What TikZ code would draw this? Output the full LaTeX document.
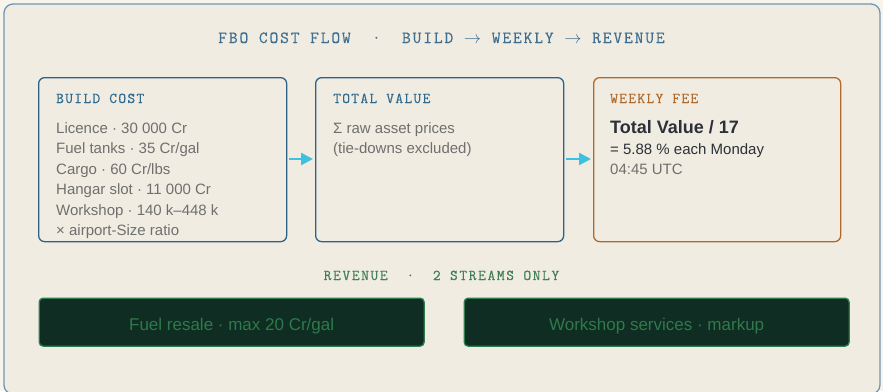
\documentclass[tikz,border=0pt]{standalone}
\usepackage{fontspec}
\setmainfont{Liberation Sans}
\newfontfamily\titlemono[LetterSpace=11,FakeBold=0.4]{Latin Modern Mono}
\newfontfamily\headmono[LetterSpace=9,FakeBold=0.4]{Latin Modern Mono}
\newfontfamily\revmono[LetterSpace=11,FakeBold=0.4]{Latin Modern Mono}
\usetikzlibrary{arrows.meta}
\definecolor{pagebg}{HTML}{F7F4EC}
\definecolor{panelbg}{HTML}{F0ECE1}
\definecolor{framec}{HTML}{7396B0}
\definecolor{bluec}{HTML}{2D6288}
\definecolor{blueh}{HTML}{2F6A90}
\definecolor{brownc}{HTML}{B06B2C}
\definecolor{grayt}{HTML}{6F6F6F}
\definecolor{darkt}{HTML}{2C3038}
\definecolor{cyanc}{HTML}{3EC1DF}
\definecolor{greenf}{HTML}{0F2D22}
\definecolor{greens}{HTML}{2F7D4E}
\definecolor{greent}{HTML}{2E7A4A}
\definecolor{titlec}{HTML}{3E6F91}
\definecolor{revc}{HTML}{3F8058}
\tikzset{
  card/.style={draw=bluec, line width=1.3pt, rounded corners=6pt, fill=panelbg, anchor=north west, inner sep=0pt},
  feecard/.style={card, draw=brownc},
  revbox/.style={draw=greens, line width=1.3pt, rounded corners=4pt, fill=greenf, inner sep=0pt,
    minimum width=385pt, minimum height=48pt},
  revtext/.style={anchor=base, inner sep=0pt, text=greent, font=\fontsize{17}{20}\selectfont},
  head/.style={anchor=base west, inner sep=0pt, font=\headmono\fontsize{15}{17}\selectfont},
  body/.style={anchor=base west, inner sep=0pt, text=grayt, font=\fontsize{15}{18}\selectfont},
  flow/.style={draw=cyanc, line width=2.6pt, -{Triangle[length=12pt,width=12pt]}, shorten <=2pt, shorten >=2pt},
}
\begin{document}
\begin{tikzpicture}[x=1pt,y=-1pt]
\useasboundingbox (0,0) rectangle (883,391);
\fill[pagebg] (0,0) rectangle (883,391);
\draw[framec, line width=1.3pt, fill=panelbg, rounded corners=9pt] (4,4) rectangle (880,394);

\node[anchor=base, inner sep=0pt, text=titlec, font=\titlemono\fontsize{17}{20}\selectfont] (title) at (441.5,43)
  {FBO COST FLOW\ \ ·\ \ BUILD $\rightarrow$ WEEKLY $\rightarrow$ REVENUE};

\node[card, minimum width=248pt, minimum height=164pt] (build) at (38,77) {};
\node[card, minimum width=248pt, minimum height=164pt] (total) at (315,77) {};
\node[feecard, minimum width=247pt, minimum height=164pt] (fee) at (593,77) {};

\node[head, text=blueh] (bh) at (56,103) {BUILD COST};
\node[body] (b1) at (56,133) {Licence · 30 000 Cr};
\node[body] (b2) at (56,153.5) {Fuel tanks · 35 Cr/gal};
\node[body] (b3) at (56,174) {Cargo · 60 Cr/lbs};
\node[body] (b4) at (56,194.5) {Hangar slot · 11 000 Cr};
\node[body] (b5) at (56,215) {Workshop · 140 k–448 k};
\node[body] (b6) at (56,235.5) {× airport-Size ratio};

\node[head, text=blueh] (th) at (333,103) {TOTAL VALUE};
\node[body] (t1) at (333,133) {Σ raw asset prices};
\node[body] (t2) at (333,153.5) {(tie-downs excluded)};

\node[head, text=brownc] (fh) at (610,103) {WEEKLY FEE};
\node[body, text=darkt, font=\bfseries\fontsize{18}{20}\selectfont] (f1) at (610,133.5) {Total Value / 17};
\node[body, text=darkt] (f2) at (610,154) {= 5.88 \% each Monday};
\node[body] (f3) at (610,174) {04:45 UTC};

\draw[flow] (build.east |- 0,159) -- (total.west |- 0,159);
\draw[flow] (total.east |- 0,159) -- (fee.west |- 0,159);

\node[anchor=base, inner sep=0pt, text=revc, font=\revmono\fontsize{15}{17}\selectfont] (rev) at (441.5,280) {REVENUE\ \ ·\ \ 2 STREAMS ONLY};

\node[revbox, anchor=north west] (fuel) at (38.5,297.5) {};
\node[revbox, anchor=north west] (work) at (463.5,297.5) {};
\node[revtext] (fuelt) at ([yshift=-8.5pt]fuel.center) {Fuel resale · max 20 Cr/gal};
\node[revtext] (workt) at ([yshift=-8.5pt]work.center) {Workshop services · markup};
\end{tikzpicture}
\end{document}
